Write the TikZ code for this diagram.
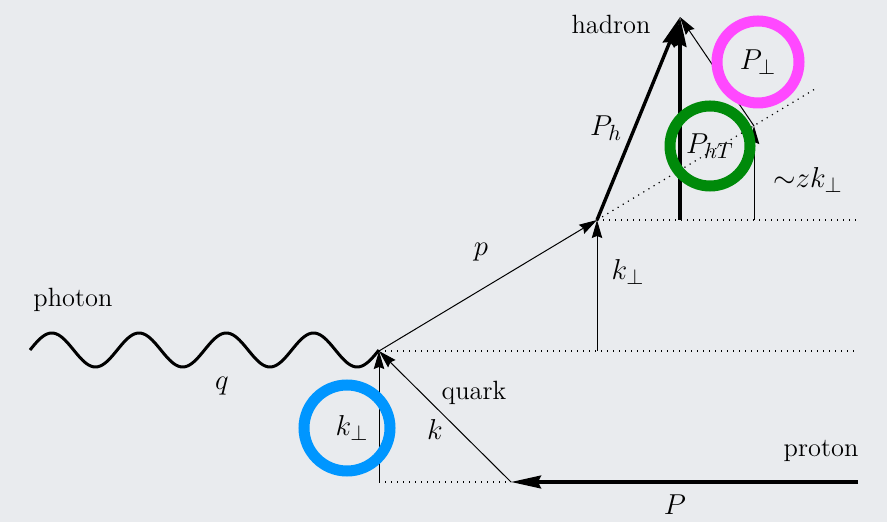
\documentclass[tikz,border=0pt]{standalone}
\usetikzlibrary{arrows.meta}
\definecolor{bgcol}{RGB}{233,235,238}
\definecolor{ringblue}{RGB}{0,150,255}
\definecolor{ringgreen}{RGB}{0,138,10}
\definecolor{ringpink}{RGB}{255,72,255}

\begin{document}
\begin{tikzpicture}[
    x=0.5pt, y=-0.5pt,
    font=\fontsize{13.2}{16}\selectfont,
    sym/.style={font=\fontsize{15.5}{18}\selectfont},
    thin_vec/.style={-{Stealth[length=9pt, width=5.2pt, inset=1pt]}, line width=0.5pt},
    thick_vec/.style={-{Stealth[length=15pt, width=6.4pt, inset=1.5pt]}, line width=1.7pt},
    guide/.style={line width=0.6pt, dash pattern=on 0.6pt off 2.4pt},
    wave/.style={line width=1.5pt, line join=round},
    ring/.style={draw=#1, circle, line width=5.5pt, inner sep=0pt}
]
\useasboundingbox[fill=bgcol] (0,0) rectangle (887,522);

% points of the kinematics
\coordinate (ph)  at (30,350);
\coordinate (vtx) at (379,351);
\coordinate (kbase) at (379,482);
\coordinate (qin) at (511,482);
\coordinate (pin) at (858,482);
\coordinate (had) at (597,220);
\coordinate (hbase) at (597,351);
\coordinate (diag) at (815,89);
\coordinate (tip) at (680,17);
\coordinate (tbase) at (680,220);
\coordinate (zbase) at (754,220);
\coordinate (ztop) at (754,126);
\coordinate (endA) at (857,351);
\coordinate (endB) at (857,220);

% guides
\draw [guide] (vtx) -- (endA);
\draw [guide] (kbase) -- (qin);
\draw [guide] (had) -- (endB);
\draw [guide] (had) -- (diag);

% photon
\draw [wave, shift={(ph)}] plot [domain=0:4, samples=161, smooth] (\x*87.25, {-17*sin(\x*360)});

% quark and proton
\draw [thick_vec] (pin) -- (qin);
\draw [thin_vec] (qin) -- (vtx);
\draw [thin_vec] (kbase) -- (vtx);
\draw [thin_vec] (vtx) -- (had);
\draw [thin_vec] (hbase) -- (had);

% hadron
\draw [thick_vec] (had) -- (tip);
\draw [thick_vec] (tbase) -- (tip);
\draw [thin_vec] (zbase) -- (ztop);
\draw [thin_vec] (ztop) -- (tip);

% labels
\node (lphoton) at (73,300) {photon};
\node (lq) [sym] at (222,386) {$q$};
\node (lquark) at (474,393) {quark};
\node (lk) [sym] at (435,430) {$k$};
\node (lproton) at (821,451) {proton};
\node (lP) [sym] at (675,505) {$P$};
\node (lp) [sym] at (481,252) {$p$};
\node (lkperp) [sym] at (628,272) {$k_\perp$};
\node (lPh) [sym] at (606,128) {$P_h$};
\node (lhadron) at (611,24) {hadron};
\node (lzk) [sym] at (808,180) {${\sim}zk_\perp$};

% highlighted quantities
\node (cblue) [ring=ringblue, minimum size=43pt] at (347,428) {};
\node [sym] at (352,428) {$k_\perp$};
\node (cgreen) [ring=ringgreen, minimum size=40pt, sym] at (710,146) {$P_{hT}$};
\node (cpink) [ring=ringpink, minimum size=41pt, sym] at (758,62) {$P_\perp$};

\end{tikzpicture}
\end{document}
